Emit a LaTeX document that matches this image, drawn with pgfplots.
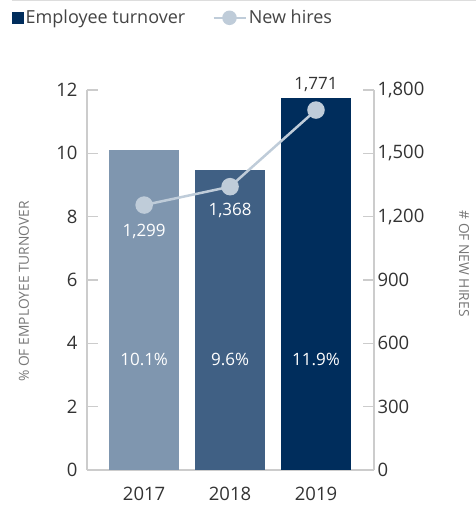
\documentclass[border=0pt]{standalone}
\usepackage{fontspec}
\setmainfont{Open Sans}
\usepackage{pgfplots}
\pgfplotsset{compat=1.18}
\usepackage{pgfplotstable}
\definecolor{bA}{HTML}{7F96AF}
\definecolor{bB}{HTML}{406084}
\definecolor{bC}{HTML}{002D5C}
\definecolor{lineC}{HTML}{BFCCD9}
\definecolor{axC}{HTML}{CCCCCC}
\definecolor{tickC}{HTML}{333333}
\definecolor{labC}{HTML}{777777}
\definecolor{legC}{HTML}{444444}
\definecolor{topC}{HTML}{DDDDDD}

\pgfplotstableread{
x y
0 1255
1 1342
2 1705
}\hires

\pgfplotstableread{
x y lab
0 3.5 10.1\%
1 3.5 9.6\%
2 3.5 11.9\%
}\barlabels

\pgfplotstableread{
x y lab
0 1131 1,299
1 1230 1,368
}\hireslabelsin

\pgfplotstableread{
x y lab
2 1824 1,771
}\hireslabelsout

\begin{document}
\begin{tikzpicture}
\path[use as bounding box] (-87pt,-36pt) rectangle (389pt,470pt);
\draw[topC, line width=1pt] (-75pt,469pt) -- (389pt,469pt);
\begin{axis}[
 at={(0pt,0pt)}, anchor=south west,
 scale only axis, width=287pt, height=380pt,
 xmin=-0.665, xmax=2.675, ymin=0, ymax=12,
 axis x line*=bottom, axis y line*=left,
 axis line style={axC, line width=1.5pt, -},
 ytick={0,2,...,12}, xtick={0,1,2}, xticklabels={2017,2018,2019},
 major tick length=11pt, tick align=inside,
 y tick style={axC, line width=1.5pt},
 x tick style={draw=none},
 tick label style={font=\fontsize{18.5}{22}\selectfont, text=tickC},
 /pgf/number format/assume math mode=true,
 yticklabel style={xshift=-6pt},
 xticklabel style={yshift=-14pt},
 ylabel={\% OF EMPLOYEE TURNOVER},
 ylabel style={at={(axis description cs:-0.22,0.47)}, anchor=center, font=\fontsize{13.8}{16}\selectfont, text=labC},
 clip=false,
]
\addplot[ybar, bar width=0.81, bar shift=0pt, fill=bA, draw=none] coordinates {(0,10.1)};
\addplot[ybar, bar width=0.81, bar shift=0pt, fill=bB, draw=none] coordinates {(1,9.48)};
\addplot[ybar, bar width=0.81, bar shift=0pt, fill=bC, draw=none] coordinates {(2,11.76)};
\addplot[draw=none, mark=none, nodes near coords, point meta=explicit symbolic,
  every node near coord/.append style={anchor=center, text=white, font=\fontsize{17}{20}\selectfont}]
  table[meta=lab] {\barlabels};
\end{axis}
\begin{axis}[
 at={(0pt,0pt)}, anchor=south west,
 scale only axis, width=287pt, height=380pt,
 xmin=-0.665, xmax=2.675, ymin=0, ymax=1800,
 axis x line=none, axis y line*=right,
 axis line style={axC, line width=1.5pt, -},
 ytick={0,300,...,1800},
 major tick length=11pt, tick align=inside,
 y tick style={axC, line width=1.5pt},
 tick label style={font=\fontsize{18.5}{22}\selectfont, text=tickC},
 /pgf/number format/assume math mode=true,
 /pgf/number format/1000 sep={,},
 ylabel={\# OF NEW HIRES},
 ylabel style={at={(axis description cs:1.314,0.543)}, anchor=center, rotate=180, font=\fontsize{13.8}{16}\selectfont, text=labC},
 clip=false,
 legend style={at={(axis description cs:-0.261,1.19)}, anchor=west, draw=none, fill=none,
   font=\fontsize{18}{21}\selectfont, text=legC, inner sep=0pt,
   /tikz/every even column/.append style={column sep=25pt}},
 legend columns=2,
]
\addlegendimage{legend image code/.code={\fill[bC] (0pt,-5.5pt) rectangle (11pt,5.5pt);}}
\addlegendentry{Employee turnover}
\addplot[lineC, line width=2.5pt, mark=*, mark size=7.5pt, mark options={fill=lineC, draw=lineC},
  legend image code/.code={\draw[lineC, line width=2.5pt] (0pt,0pt) -- (32pt,0pt); \fill[lineC] (16pt,0pt) circle (6pt);}]
  table {\hires};
\addlegendentry{New hires}
\addplot[draw=none, mark=none, nodes near coords, point meta=explicit symbolic,
  every node near coord/.append style={anchor=center, text=white, font=\fontsize{17}{20}\selectfont}]
  table[meta=lab] {\hireslabelsin};
\addplot[draw=none, mark=none, nodes near coords, point meta=explicit symbolic,
  every node near coord/.append style={anchor=center, text=tickC, font=\fontsize{17}{20}\selectfont}]
  table[meta=lab] {\hireslabelsout};
\end{axis}
\end{tikzpicture}
\end{document}
